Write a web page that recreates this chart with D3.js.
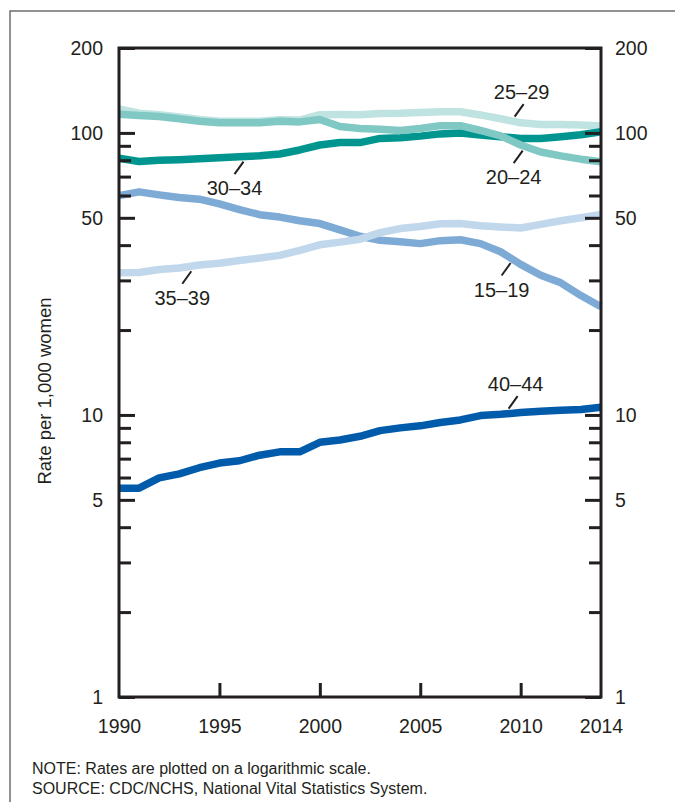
<!DOCTYPE html>
<html>
<head>
<meta charset="utf-8">
<script src="https://cdn.jsdelivr.net/npm/d3@7"></script>
<style>
  body { margin: 0; background: #fff; }
  svg { display: block; font-family: "Liberation Sans", Arial, sans-serif; }
  .axis path, .axis line { stroke: #231f20; }
  .axis text { fill: #231f20; font-size: 19.5px; font-family: "Liberation Sans", Arial, sans-serif; }
</style>
</head>
<body>
<script>
// birth rates per 1,000 women by age group, 1990-2014
var years = d3.range(1990, 2015);

var rate15_19 = [59.9, 61.8, 60.3, 59.0, 58.2, 56.0, 53.5, 51.3, 50.3, 48.8, 47.7, 45.3, 43.0,
                 41.6, 41.1, 40.5, 41.5, 41.8, 40.5, 37.9, 34.2, 31.3, 29.4, 26.5, 24.2];
var rate20_24 = [116.5, 115.3, 114.3, 112.3, 110.0, 108.6, 108.6, 108.6, 110.0, 109.4, 111.6, 105.3, 103.6,
                 103.1, 102.0, 103.7, 106.1, 106.1, 102.0, 97.6, 90.6, 85.6, 82.9, 80.7, 79.0];
var rate25_29 = [121.6, 117.5, 116.0, 113.8, 111.5, 110.0, 110.0, 110.0, 111.4, 111.0, 116.0, 116.2, 116.0,
                 117.1, 117.3, 118.2, 118.9, 118.9, 115.8, 112.3, 108.6, 107.2, 107.0, 106.6, 105.8];
var rate30_34 = [81.3, 79.2, 80.0, 80.4, 80.9, 81.6, 82.3, 83.0, 84.2, 87.0, 90.6, 92.5, 92.4,
                 95.6, 96.1, 97.4, 99.2, 100.0, 98.2, 96.9, 95.6, 95.6, 96.9, 98.5, 101.0];
var rate35_39 = [31.9, 32.0, 32.8, 33.2, 34.0, 34.5, 35.3, 36.0, 36.8, 38.3, 40.1, 41.0, 42.0,
                 44.3, 45.8, 46.6, 47.6, 47.7, 46.9, 46.4, 46.0, 47.4, 48.8, 50.0, 51.4];
var rate40_44 = [5.5, 5.5, 5.98, 6.18, 6.5, 6.75, 6.88, 7.2, 7.4, 7.4, 8.0, 8.15, 8.4,
                 8.8, 9.0, 9.15, 9.4, 9.6, 9.95, 10.05, 10.2, 10.3, 10.4, 10.45, 10.65];

var groupNames = ["25–29", "30–34", "20–24", "15–19", "35–39", "40–44"];
var groupColors = ["#bfe3e0", "#00958f", "#80c8c3", "#7eaad6", "#c0d7ec", "#005bab"];
var groupRates = [rate25_29, rate30_34, rate20_24, rate15_19, rate35_39, rate40_44];

var yLabelTicks = [1, 5, 10, 50, 100, 200];
var yMinorTicks = [2, 3, 4, 6, 7, 8, 9, 20, 30, 40, 60, 70, 80, 90];
var xLabelTicks = [1990, 1995, 2000, 2005, 2010, 2014];
var xInnerTicks = [1995, 2000, 2005, 2010];

// where the little leader lines sit (year on the line, label above or below)
var callouts = [
  {name: "30–34", year: 1996.2, side: 1},
  {name: "35–39", year: 1993.6, side: 1},
  {name: "20–24", year: 2010.1, side: 1},
  {name: "15–19", year: 2009.5, side: 1},
  {name: "25–29", year: 2009.7, side: -1},
  {name: "40–44", year: 2009.4, side: -1}
];

var width = 675, height = 802;
var margin = {top: 48, right: 74, bottom: 105, left: 119};

var svg = d3.select("body").append("svg")
    .attr("width", width)
    .attr("height", height);

// outer frame
svg.append("path")
    .attr("d", "M10," + height + "V11H" + width)
    .attr("fill", "none")
    .attr("stroke", "#6d6e71")
    .attr("stroke-width", 1.5);

var x = d3.scaleLinear()
    .domain([1990, 2014])
    .range([margin.left, width - margin.right]);

var y = d3.scaleLog()
    .domain([1, 200])
    .range([height - margin.bottom, margin.top]);

var series = groupNames.map(function(n, i) {
  return {name: n, color: groupColors[i], values: years.map(function(yr, j) {
    return {year: yr, rate: groupRates[i][j]};
  })};
});

var line = d3.line()
    .x(function(d) { return x(d.year); })
    .y(function(d) { return y(d.rate); });

svg.append("g")
  .selectAll("path")
  .data(series)
  .enter().append("path")
    .attr("d", function(d) { return line(d.values); })
    .attr("fill", "none")
    .attr("stroke", function(d) { return d.color; })
    .attr("stroke-width", 7.5)
    .attr("stroke-linejoin", "round");

// axes
var x0 = x.range()[0], x1 = x.range()[1];
var y0 = y.range()[0], y1 = y.range()[1];

svg.append("rect")
    .attr("x", x0).attr("y", y1)
    .attr("width", x1 - x0).attr("height", y0 - y1)
    .attr("fill", "none")
    .attr("stroke", "#231f20")
    .attr("stroke-width", 3);

function tickAxis(axis, tx, ty, size, values) {
  var g = svg.append("g")
      .attr("class", "axis")
      .attr("transform", "translate(" + tx + "," + ty + ")")
      .call(axis.tickValues(values).tickSize(size).tickSizeOuter(0).tickFormat(""));
  g.select(".domain").remove();
  g.selectAll("line").attr("stroke-width", 3);
}

tickAxis(d3.axisRight(y), x0, 0, 16, yLabelTicks);
tickAxis(d3.axisRight(y), x0, 0, 12, yMinorTicks);
tickAxis(d3.axisLeft(y), x1, 0, 16, yLabelTicks);
tickAxis(d3.axisLeft(y), x1, 0, 12, yMinorTicks);
tickAxis(d3.axisTop(x), 0, y0, 14, xInnerTicks);

function labelAxis(axis, tx, ty, pad, values, fmt) {
  var g = svg.append("g")
      .attr("class", "axis")
      .attr("transform", "translate(" + tx + "," + ty + ")")
      .call(axis.tickValues(values).tickSize(0).tickPadding(pad).tickFormat(fmt));
  g.select(".domain").remove();
  return g;
}

labelAxis(d3.axisLeft(y), x0, 0, 16, yLabelTicks, d3.format("d"));
labelAxis(d3.axisRight(y), x1, 0, 14, yLabelTicks, d3.format("d"));
labelAxis(d3.axisBottom(x), 0, y0, 22, xLabelTicks, d3.format("d"));

// y title
svg.append("text")
    .attr("transform", "translate(51," + 391 + ") rotate(-90)")
    .attr("text-anchor", "middle")
    .attr("fill", "#231f20")
    .style("font-size", "18.5px")
    .text("Rate per 1,000 women");

// series callouts
var lookup = {};
series.forEach(function(s) { lookup[s.name] = s; });

callouts.forEach(function(c) {
  var s = lookup[c.name];
  var rate = Math.exp(d3.scaleLinear()
      .domain(years)
      .range(s.values.map(function(d) { return Math.log(d.rate); }))(c.year));
  var px = x(c.year), py = y(rate) + c.side * 5;
  var ex, ey, tx, ty;
  if (c.side > 0) {
    ex = px - 9; ey = py + 12.5;
    tx = ex; ty = ey + 21;
  } else {
    ex = px + 9; ey = py - 12.5;
    tx = ex - 2; ty = ey - 5;
  }
  svg.append("line")
      .attr("x1", px).attr("y1", py)
      .attr("x2", ex).attr("y2", ey)
      .attr("stroke", "#231f20")
      .attr("stroke-width", 2);
  svg.append("text")
      .attr("x", tx).attr("y", ty)
      .attr("text-anchor", "middle")
      .attr("fill", "#231f20")
      .style("font-size", "20px")
      .text(c.name);
});

// notes
var notes = ["NOTE: Rates are plotted on a logarithmic scale.",
             "SOURCE: CDC/NCHS, National Vital Statistics System."];
svg.append("g")
  .selectAll("text")
  .data(notes)
  .enter().append("text")
    .attr("x", 32)
    .attr("y", function(d, i) { return 774 + i * 20; })
    .attr("fill", "#231f20")
    .style("font-size", "16px")
    .text(function(d) { return d; });
</script>
</body>
</html>
